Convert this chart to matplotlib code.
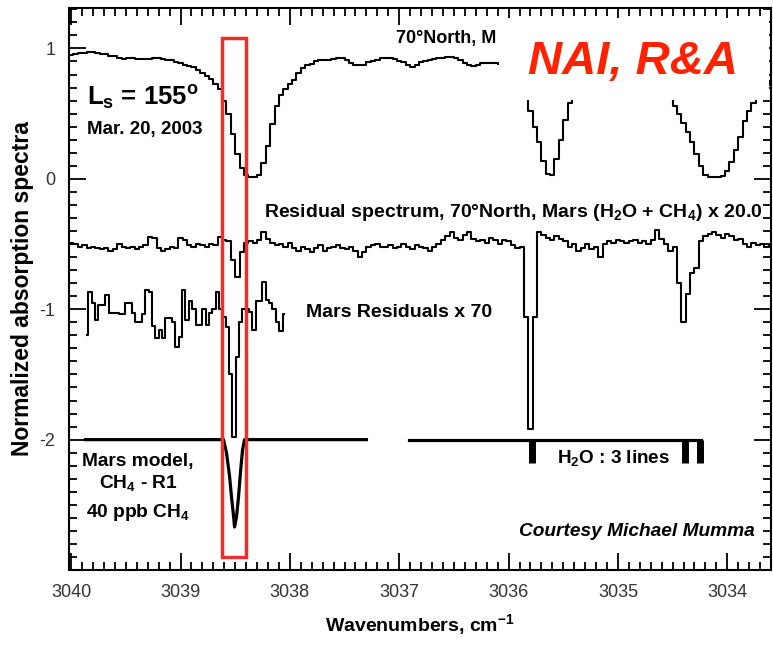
import numpy as np
import matplotlib
matplotlib.use("Agg")
import matplotlib.pyplot as plt
from matplotlib.patches import Rectangle
from matplotlib.ticker import MultipleLocator

plt.rcParams['font.family'] = ['Liberation Sans', 'DejaVu Sans']
plt.rcParams['mathtext.fontset'] = 'custom'
plt.rcParams['mathtext.rm'] = 'Liberation Sans:bold'
plt.rcParams['mathtext.it'] = 'Liberation Sans:bold:italic'
plt.rcParams['mathtext.bf'] = 'Liberation Sans:bold'
plt.rcParams['mathtext.default'] = 'rm'

# spectra binned every 0.04 cm-1, first bin centred at 3040.0
wn_start = 3040.0
wn_step = 0.04

mars_spectrum = [
    0.95, 0.96, 0.963, 0.965, 0.97, 0.97, 0.968, 0.96, 0.955, 0.94,
    0.94, 0.93, 0.917, 0.925, 0.925, 0.922, 0.917, 0.917, 0.92, 0.925,
    0.925, 0.92, 0.91, 0.91, 0.895, 0.887, 0.875, 0.866, 0.855, 0.835,
    0.815, 0.79, 0.765, 0.73, 0.69, 0.60, 0.50, 0.34, 0.19, 0.08,
    0.03, 0.015, 0.015, 0.03, 0.12, 0.25, 0.42, 0.56, 0.64, 0.69,
    0.73, 0.76, 0.81, 0.85, 0.87, 0.88, 0.90, 0.91, 0.91, 0.915,
    0.92, 0.925, 0.925, 0.91, 0.89, 0.87, 0.87, 0.875, 0.895, 0.905,
    0.915, 0.925, 0.93, 0.925, 0.92, 0.905, 0.895, 0.87, 0.86, 0.875,
    0.895, 0.905, 0.915, 0.92, 0.925, 0.93, 0.935, 0.935, 0.93, 0.91,
    0.89, 0.875, 0.865, 0.87, 0.885, 0.89, 0.89, 0.89, 0.88, 0.87,
    0.85, 0.82, 0.77, 0.71, 0.65, 0.52, 0.40, 0.28, 0.14, 0.04,
    0.03, 0.15, 0.30, 0.45, 0.58, 0.68, 0.75, 0.80, 0.84, 0.86,
    0.88, 0.89, 0.90, 0.90, 0.91, 0.90, 0.89, 0.89, 0.88, 0.86,
    0.84, 0.81, 0.78, 0.75, 0.71, 0.67, 0.63, 0.61, 0.56, 0.50,
    0.43, 0.36, 0.28, 0.19, 0.10, 0.03, 0.015, 0.015, 0.015, 0.02,
    0.06, 0.13, 0.22, 0.32, 0.44, 0.52, 0.58, 0.63, 0.68, 0.72,
    0.75,
]

residual_x20 = [
    -0.49, -0.50, -0.52, -0.51, -0.53, -0.52, -0.53, -0.54, -0.53, -0.55,
    -0.54, -0.50, -0.52, -0.53, -0.52, -0.54, -0.52, -0.51, -0.445, -0.45,
    -0.53, -0.55, -0.54, -0.52, -0.53, -0.45, -0.47, -0.51, -0.52, -0.50,
    -0.51, -0.52, -0.50, -0.51, -0.445, -0.47, -0.48, -0.62, -0.75, -0.56,
    -0.49, -0.48, -0.49, -0.47, -0.405, -0.46, -0.49, -0.51, -0.50, -0.52,
    -0.49, -0.53, -0.55, -0.52, -0.54, -0.56, -0.53, -0.51, -0.55, -0.53,
    -0.52, -0.51, -0.53, -0.54, -0.52, -0.55, -0.60, -0.56, -0.52, -0.51,
    -0.50, -0.52, -0.52, -0.51, -0.53, -0.52, -0.50, -0.52, -0.54, -0.51,
    -0.52, -0.53, -0.55, -0.52, -0.50, -0.47, -0.44, -0.41, -0.45, -0.47,
    -0.43, -0.41, -0.46, -0.48, -0.47, -0.49, -0.45, -0.47, -0.50, -0.47,
    -0.48, -0.51, -0.53, -0.52, -1.06, -1.92, -1.06, -0.41, -0.43, -0.45,
    -0.47, -0.44, -0.46, -0.48, -0.52, -0.50, -0.55, -0.53, -0.50, -0.54,
    -0.52, -0.60, -0.50, -0.48, -0.49, -0.47, -0.48, -0.49, -0.48, -0.47,
    -0.49, -0.48, -0.50, -0.47, -0.39, -0.46, -0.50, -0.55, -0.52, -0.80,
    -1.10, -0.88, -0.72, -0.68, -0.48, -0.44, -0.42, -0.41, -0.43, -0.45,
    -0.42, -0.44, -0.47, -0.46, -0.50, -0.52, -0.49, -0.51, -0.50, -0.52,
    -0.51,
]

# Mars residuals x 70, narrower bins
res70_start = 3039.873
res70_step = 0.0306
residual_x70 = [
    -1.20, -0.87, -0.95, -1.08, -0.97, -0.97, -0.89, -1.03, -1.03, -1.03,
    -1.04, -1.04, -0.95, -0.95, -1.03, -1.10, -1.10, -1.04, -0.85, -0.87,
    -1.13, -1.22, -1.16, -1.22, -1.07, -1.07, -1.10, -1.29, -1.21, -0.85,
    -1.08, -0.94, -1.00, -1.12, -1.12, -1.00, -1.12, -1.03, -1.00, -0.87,
    -1.00, -1.06, -1.14, -1.50, -1.98, -1.37, -1.10, -1.00, -1.00, -1.02,
    -1.16, -0.94, -0.94, -0.79, -0.93, -0.95, -1.00, -1.10, -1.17, -1.04,
]

# Mars model CH4 R1 line (offset -2)
model_wn = [3039.87, 3038.607, 3038.58, 3038.552, 3038.534, 3038.515,
            3038.506, 3038.488, 3038.47, 3038.45, 3038.433, 3038.415, 3037.30]
model_val = [-2.0, -2.0, -2.10, -2.28, -2.44, -2.59,
             -2.67, -2.59, -2.44, -2.23, -2.08, -2.0, -2.0]
model_right = [3036.91, 3034.24]
h2o_lines = [3035.79, 3034.39, 3034.25]

wn = wn_start - wn_step * np.arange(len(mars_spectrum))
wn70 = res70_start - res70_step * (np.arange(len(residual_x70)) + 0.5)

fig = plt.figure(figsize=(7.73, 6.46), dpi=100)
ax = fig.add_axes([0.0893, 0.1176, 0.9081, 0.87])

ax.step(wn, mars_spectrum, where='mid', color='black', lw=1.5)
ax.step(wn, residual_x20, where='mid', color='black', lw=1.5)
ax.step(wn70, residual_x70, where='mid', color='black', lw=1.5)
ax.plot(model_wn, model_val, color='black', lw=2.3)
ax.plot(model_right, [-2, -2], color='black', lw=2.3)
for w in h2o_lines:
    ax.plot([w, w], [-2, -2.18], color='black', lw=5, solid_capstyle='butt')

ax.add_patch(Rectangle((3038.62, -2.90), -0.22, 3.98, fill=False,
                       edgecolor='#e8302c', lw=2.5, zorder=6))

# label of the top spectrum, mostly hidden behind the NAI stamp
ax.text(3037.03, 1.08, '70°North, M', fontsize=13,
        fontweight='bold', va='center', ha='left')
ax.add_patch(Rectangle((3036.09, 0.605), -2.47, 0.63, facecolor='white',
                       edgecolor='none', zorder=4))
ax.text(3035.818, 0.897, 'NAI, R&A', fontsize=34, fontweight='bold',
        fontstyle='italic', color='#ff2200', va='center', ha='left', zorder=5)

ax.text(3039.855, 0.62, 'L$_s$ = 155$^o$', fontsize=18.5, fontweight='bold',
        va='center', ha='left')
ax.text(3039.855, 0.375, 'Mar. 20, 2003', fontsize=13.5, fontweight='bold',
        va='center', ha='left')
ax.text(3038.24, -0.26, 'Residual spectrum, 70°North, Mars (H$_2$O + CH$_4$) x 20.0',
        fontsize=14, fontweight='bold', va='center', ha='left')
ax.text(3037.855, -1.027, 'Mars Residuals x 70', fontsize=14, fontweight='bold',
        va='center', ha='left')
ax.text(3039.387, -2.17, 'Mars model,', fontsize=13.8, fontweight='bold',
        va='center', ha='center')
ax.text(3039.387, -2.33, 'CH$_4$ - R1', fontsize=13.8, fontweight='bold',
        va='center', ha='center')
ax.text(3039.387, -2.56, '40 ppb CH$_4$', fontsize=13.8, fontweight='bold',
        va='center', ha='center')
ax.text(3035.56, -2.14, 'H$_2$O : 3 lines', fontsize=13.6, fontweight='bold',
        va='center', ha='left')
ax.text(3033.745, -2.705, 'Courtesy Michael Mumma', fontsize=13.8,
        fontweight='bold', fontstyle='italic', va='center', ha='right')

ax.set_xlim(3040.02, 3033.6)
ax.set_ylim(-3.0, 1.31)
ax.xaxis.set_minor_locator(MultipleLocator(0.1))
ax.yaxis.set_minor_locator(MultipleLocator(0.1))
ax.set_xticks([3040, 3039, 3038, 3037, 3036, 3035, 3034])
ax.set_xticklabels(['3040', '3039', '3038', '3037', '3036', '3035', '3034'])
ax.set_yticks([1, 0, -1, -2])
ax.set_yticklabels(['1', '0', '-1', '-2'])
ax.tick_params(which='both', direction='in', top=True, right=True,
               labelsize=13, labelcolor='#333333', width=1.3)
ax.tick_params(which='major', length=12, pad=10)
ax.tick_params(which='minor', length=6)
for s in ax.spines.values():
    s.set_linewidth(1.5)

ax.set_xlabel('Wavenumbers, cm$^{-1}$', fontsize=14, fontweight='bold', labelpad=8)
ax.set_ylabel('Normalized absorption spectra', fontsize=16.5, fontweight='bold',
              labelpad=4)

fig.savefig('out.png', dpi=100)
